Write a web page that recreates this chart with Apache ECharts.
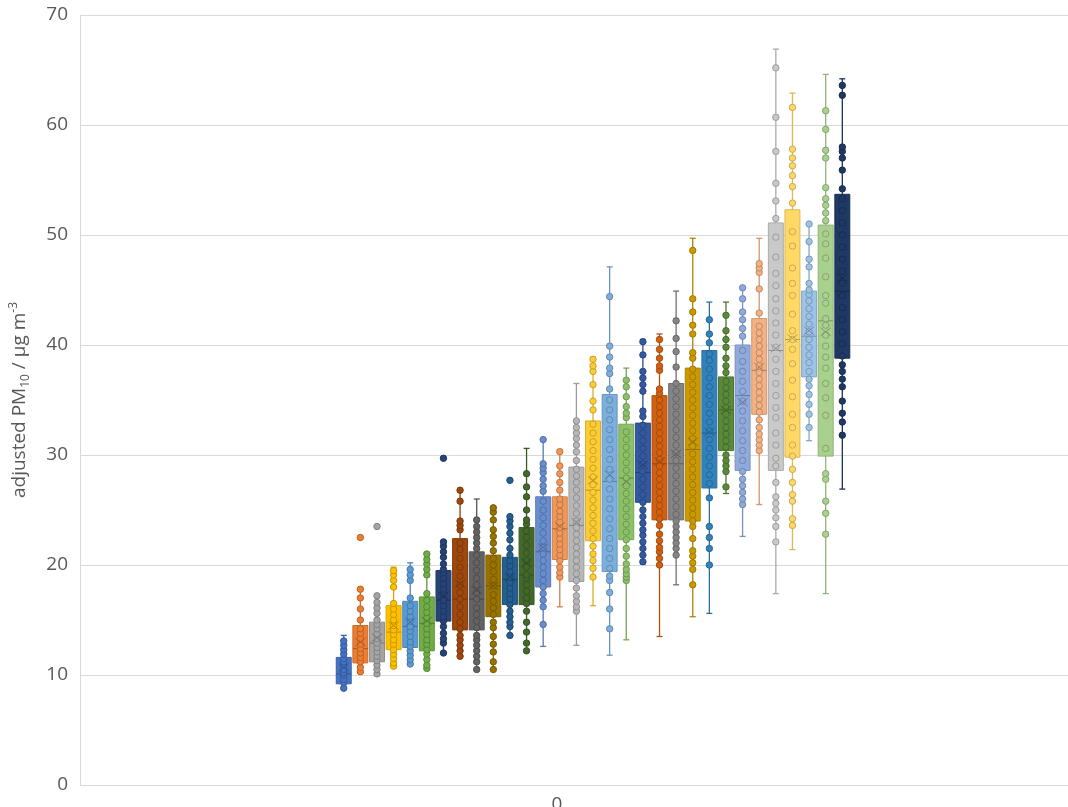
<!DOCTYPE html>
<html>
<head>
<meta charset="utf-8">
<script src="https://cdn.jsdelivr.net/npm/echarts@6/dist/echarts.min.js"></script>
<style>
  html, body { margin: 0; padding: 0; background: #ffffff; }
  #chart { width: 1068px; height: 807px; }
</style>
</head>
<body>
<div id="chart"></div>
<script>
// Category shown under the plot
const categories = ['0'];

// Series colours, one per box (Office palette order)
const groupColors = [
  '#4472C4', '#ED7D31', '#A5A5A5', '#FFC000', '#5B9BD5', '#70AD47',
  '#264478', '#9E480E', '#636363', '#997300', '#255E91', '#43682B',
  '#698ED0', '#F1975A', '#B7B7B7', '#FFCD33', '#7CAFDD', '#8CC168',
  '#335AA1', '#D26012', '#848484', '#CC9A00', '#3282BD', '#5A8A39',
  '#8FAADC', '#F4B183', '#C9C9C9', '#FFD966', '#9DC3E6', '#A9D18E',
  '#203864'
];

// Box statistics (µg m-3)
const whiskerLow = [8.8, 10.2, 10.0, 10.8, 11.0, 10.6, 12.0, 11.7, 10.5, 10.5, 13.6, 12.2, 12.6, 16.2, 12.7, 16.3, 11.8, 13.2, 20.1, 13.5, 18.2, 15.3, 15.6, 26.5, 22.6, 25.5, 17.4, 21.4, 31.3, 17.4, 26.9];
const quartile1  = [9.2, 11.1, 11.2, 12.3, 12.5, 12.2, 14.9, 14.1, 14.1, 15.3, 16.4, 16.4, 18.0, 20.5, 18.5, 22.2, 19.4, 22.3, 25.7, 24.1, 24.1, 24.0, 27.0, 30.4, 28.6, 33.7, 28.6, 29.8, 37.1, 29.9, 38.8];
const medians    = [10.1, 12.4, 12.9, 13.9, 14.4, 14.7, 16.8, 16.9, 16.9, 18.1, 18.7, 19.1, 21.2, 23.3, 23.6, 26.8, 27.6, 27.9, 28.4, 29.2, 29.2, 30.5, 32.0, 34.1, 35.4, 37.7, 39.5, 40.5, 40.8, 42.2, 44.9];
const quartile3  = [11.6, 14.5, 14.8, 16.3, 16.7, 17.1, 19.5, 22.4, 21.2, 20.9, 20.7, 23.4, 26.2, 26.2, 28.9, 33.1, 35.5, 32.8, 32.9, 35.4, 36.5, 37.9, 39.5, 37.1, 40.0, 42.4, 51.1, 52.3, 44.9, 50.9, 53.7];
const whiskerHigh = [13.6, 17.9, 17.3, 19.8, 20.2, 21.1, 22.2, 26.8, 26.0, 25.2, 24.5, 30.6, 31.4, 30.5, 36.5, 38.9, 47.1, 37.9, 40.5, 41.0, 44.9, 49.7, 43.9, 43.9, 45.2, 49.7, 66.9, 62.9, 51.0, 64.6, 64.2];
const means      = [10.7, 13.0, 13.4, 14.5, 14.8, 14.9, 17.2, 18.3, 17.7, 18.1, 18.9, 20.2, 21.6, 23.5, 23.9, 27.7, 28.2, 27.6, 29.1, 29.4, 30.1, 31.2, 32.1, 34.1, 34.8, 38.0, 39.7, 40.6, 41.3, 41.2, 46.1];

// Individual measurements per box (µg m-3)
const pointValues = [
  [8.8, 9.3, 9.6, 10.0, 10.2, 10.5, 10.9, 11.2, 11.5, 11.9, 12.3, 12.7, 13.1],
  [10.3, 10.7, 11.2, 11.6, 12.0, 12.4, 12.8, 13.3, 13.8, 14.2, 15.0, 16.0, 17.0, 17.8, 22.5],
  [10.1, 10.5, 10.9, 11.3, 11.7, 12.1, 12.5, 12.9, 13.3, 13.7, 14.2, 14.6, 15.0, 15.6, 16.1, 16.6, 17.2, 23.5],
  [10.8, 11.1, 11.5, 11.9, 12.3, 12.8, 13.2, 13.7, 14.1, 14.5, 15.0, 15.5, 16.0, 16.5, 18.0, 18.6, 19.1, 19.5],
  [11.0, 11.4, 11.8, 12.2, 12.6, 13.0, 13.5, 14.0, 14.4, 14.9, 15.3, 15.8, 16.3, 17.0, 18.6, 19.1, 19.6],
  [10.6, 10.9, 11.4, 11.9, 12.3, 12.8, 13.2, 13.7, 14.2, 14.7, 15.2, 15.7, 16.2, 16.8, 17.4, 19.1, 19.6, 20.1, 20.5, 21.0],
  [12.0, 12.9, 13.3, 13.8, 14.4, 14.9, 15.3, 15.8, 16.3, 16.8, 17.3, 17.8, 18.3, 18.8, 19.3, 19.6, 20.1, 20.7, 21.2, 21.7, 22.1, 29.7],
  [11.7, 12.2, 12.7, 13.2, 13.6, 14.2, 14.8, 15.5, 16.2, 16.9, 17.5, 18.2, 19.0, 19.8, 20.6, 21.4, 22.0, 23.2, 23.6, 24.0, 25.8, 26.8],
  [10.5, 11.2, 11.7, 12.2, 12.7, 13.2, 13.6, 14.3, 14.9, 15.5, 16.1, 16.9, 17.5, 18.2, 18.8, 19.5, 20.2, 20.9, 21.5, 22.0, 22.5, 23.0, 23.5, 24.1],
  [10.5, 11.2, 12.1, 12.8, 13.5, 14.3, 14.8, 15.5, 16.1, 16.7, 17.3, 18.1, 18.7, 19.4, 20.0, 20.6, 21.3, 22.0, 22.6, 23.2, 24.1, 24.8, 25.2],
  [13.6, 14.4, 14.8, 15.3, 15.8, 16.4, 16.9, 17.4, 17.9, 18.4, 18.9, 19.4, 19.9, 20.4, 20.9, 21.5, 22.3, 22.9, 23.5, 24.0, 24.4, 27.7],
  [12.2, 12.9, 13.9, 14.8, 15.8, 16.5, 17.0, 17.6, 18.2, 18.8, 19.1, 19.8, 20.4, 21.1, 21.8, 22.5, 23.1, 23.7, 24.1, 25.0, 26.2, 27.1, 28.3],
  [14.6, 16.2, 16.8, 17.4, 18.0, 18.6, 19.2, 19.8, 20.4, 21.0, 21.6, 22.2, 22.9, 23.6, 24.3, 25.0, 25.8, 26.7, 27.2, 27.8, 28.4, 28.8, 29.2, 31.4],
  [18.9, 19.3, 19.8, 20.4, 20.9, 21.4, 21.9, 22.4, 22.9, 23.4, 23.9, 24.4, 24.9, 25.5, 26.0, 26.8, 27.5, 28.3, 29.0, 30.3],
  [15.8, 16.2, 16.7, 17.2, 17.9, 18.6, 19.2, 19.8, 20.4, 21.0, 21.6, 22.2, 22.8, 23.4, 24.0, 24.7, 25.4, 26.1, 26.8, 27.5, 28.1, 28.7, 29.5, 30.3, 30.9, 31.5, 32.0, 32.5, 33.1],
  [18.9, 19.7, 20.4, 21.0, 21.7, 22.4, 23.1, 23.8, 24.5, 25.2, 25.9, 26.6, 27.3, 28.0, 28.8, 29.6, 30.4, 31.2, 32.0, 32.8, 34.1, 34.9, 36.4, 37.6, 38.1, 38.7],
  [14.2, 16.0, 17.5, 18.6, 19.0, 19.7, 20.6, 21.5, 22.4, 23.3, 24.2, 25.1, 26.0, 26.9, 27.8, 28.7, 29.6, 30.5, 31.4, 32.3, 33.2, 34.1, 35.0, 36.0, 37.4, 37.9, 38.9, 39.9, 44.4],
  [18.6, 18.9, 19.2, 19.6, 20.1, 20.8, 21.5, 22.3, 23.0, 23.7, 24.4, 25.1, 25.8, 26.5, 27.2, 27.9, 28.6, 29.3, 30.0, 30.7, 31.4, 32.1, 33.4, 33.8, 34.4, 35.3, 36.2, 36.8],
  [20.3, 20.9, 21.5, 22.1, 22.7, 23.2, 23.8, 24.4, 25.0, 25.7, 26.4, 27.1, 27.8, 28.5, 29.2, 29.9, 30.6, 31.3, 32.0, 32.7, 33.5, 34.0, 35.8, 36.4, 37.0, 37.6, 39.1, 40.3],
  [20.0, 20.6, 21.2, 21.6, 22.2, 22.8, 23.6, 24.2, 24.8, 25.4, 26.0, 26.6, 27.2, 27.8, 28.4, 29.0, 29.6, 30.2, 30.8, 31.4, 32.0, 32.6, 33.2, 33.8, 34.4, 35.0, 35.6, 36.0, 37.7, 38.1, 38.8, 39.6, 40.5],
  [20.9, 21.5, 22.0, 22.5, 23.0, 23.5, 24.0, 24.6, 25.3, 26.0, 26.7, 27.4, 28.1, 28.8, 29.5, 30.2, 30.9, 31.6, 32.3, 33.0, 33.7, 34.4, 35.1, 35.8, 36.5, 38.0, 39.4, 40.6, 42.2],
  [18.2, 19.6, 20.2, 20.8, 21.3, 22.4, 23.5, 24.0, 24.6, 25.2, 25.9, 26.6, 27.3, 28.0, 28.7, 29.4, 30.1, 30.8, 31.5, 32.2, 32.9, 33.6, 34.3, 35.0, 35.7, 36.4, 37.1, 37.8, 38.8, 39.3, 41.0, 41.8, 43.0, 44.2, 48.6],
  [20.0, 21.5, 22.5, 23.5, 26.1, 27.4, 28.2, 29.0, 29.8, 30.6, 31.4, 32.2, 33.0, 33.8, 34.6, 35.4, 36.2, 37.0, 37.8, 38.6, 39.2, 40.2, 41.0, 42.3],
  [27.1, 28.5, 29.0, 29.5, 30.0, 30.7, 31.3, 31.9, 32.5, 33.1, 33.7, 34.3, 34.9, 35.5, 36.1, 36.7, 37.5, 38.1, 38.8, 39.8, 40.5, 41.3, 42.7],
  [25.5, 26.0, 26.6, 27.2, 27.8, 28.5, 29.5, 30.4, 31.3, 32.2, 33.1, 34.0, 34.9, 35.8, 36.7, 37.6, 38.5, 39.5, 40.8, 41.5, 42.3, 43.0, 44.2, 45.2],
  [30.4, 30.9, 31.4, 31.9, 32.5, 33.2, 33.9, 34.5, 35.1, 35.7, 36.3, 36.9, 37.5, 38.1, 38.7, 39.3, 39.9, 40.5, 41.1, 41.7, 42.9, 45.1, 46.6, 47.0, 47.4],
  [22.1, 23.5, 24.3, 25.0, 25.6, 26.2, 27.5, 29.0, 29.7, 30.9, 32.0, 33.4, 34.3, 35.4, 36.5, 37.6, 38.7, 39.8, 40.9, 42.0, 43.1, 44.2, 45.4, 46.5, 48.0, 49.8, 51.5, 53.1, 54.7, 57.6, 60.7, 65.2],
  [23.6, 24.2, 25.8, 26.4, 27.5, 28.7, 29.9, 30.9, 32.5, 33.7, 35.3, 36.8, 38.3, 39.6, 40.5, 41.3, 42.8, 44.5, 45.6, 47.0, 49.0, 50.3, 52.9, 54.4, 55.4, 56.3, 57.0, 57.8, 61.6],
  [32.5, 33.7, 34.6, 35.5, 36.3, 36.9, 37.6, 38.4, 39.1, 39.8, 40.5, 41.2, 41.9, 42.6, 43.3, 44.0, 44.6, 45.0, 45.6, 47.1, 47.8, 49.4, 51.0],
  [22.8, 24.7, 25.8, 27.8, 28.3, 30.6, 33.6, 35.2, 36.5, 37.9, 38.9, 39.9, 40.9, 41.8, 42.4, 43.8, 44.5, 46.2, 47.9, 49.2, 50.1, 51.3, 52.0, 52.7, 53.3, 54.3, 57.0, 57.7, 59.6, 61.3],
  [31.8, 33.0, 33.8, 34.9, 36.2, 36.9, 37.6, 38.2, 39.0, 40.1, 41.2, 42.3, 43.4, 44.5, 45.6, 46.7, 47.8, 48.9, 50.0, 51.1, 52.2, 53.3, 54.2, 55.9, 57.0, 57.6, 58.0, 62.7, 63.6]
];

const yAxisMin = 0;
const yAxisMax = 70;
const yAxisStep = 10;

// darken a hex colour by a factor
function shade(hex, f) {
  const n = parseInt(hex.slice(1), 16);
  const r = Math.round(((n >> 16) & 255) * f);
  const g = Math.round(((n >> 8) & 255) * f);
  const b = Math.round((n & 255) * f);
  return 'rgb(' + r + ',' + g + ',' + b + ')';
}

const boxData = groupColors.map((c, i) => [i + 1, whiskerLow[i], quartile1[i], medians[i], quartile3[i], whiskerHigh[i]]);
const meanData = means.map((m, i) => [i + 1, m]);
const pointData = [];
pointValues.forEach((vals, i) => {
  vals.forEach(v => {
    pointData.push({
      value: [i + 1, v],
      itemStyle: { color: groupColors[i], borderColor: shade(groupColors[i], 0.78) }
    });
  });
});

function renderBox(params, api) {
  const i = params.dataIndex;
  const color = groupColors[i];
  const edge = shade(color, 0.85);
  const dark = shade(color, 0.72);
  const x = api.value(0);
  const step = api.size([1, 0])[0];
  const bw = step * 0.9;
  const pLow = api.coord([x, api.value(1)]);
  const pQ1 = api.coord([x, api.value(2)]);
  const pMed = api.coord([x, api.value(3)]);
  const pQ3 = api.coord([x, api.value(4)]);
  const pHigh = api.coord([x, api.value(5)]);
  const cx = pQ1[0];
  const cap = 3;
  const wStyle = { stroke: edge, lineWidth: 1.3 };
  return {
    type: 'group',
    children: [
      { type: 'line', shape: { x1: cx, y1: pLow[1], x2: cx, y2: pQ1[1] }, style: wStyle },
      { type: 'line', shape: { x1: cx, y1: pQ3[1], x2: cx, y2: pHigh[1] }, style: wStyle },
      { type: 'line', shape: { x1: cx - cap, y1: pLow[1], x2: cx + cap, y2: pLow[1] }, style: wStyle },
      { type: 'line', shape: { x1: cx - cap, y1: pHigh[1], x2: cx + cap, y2: pHigh[1] }, style: wStyle },
      {
        type: 'rect',
        shape: { x: cx - bw / 2, y: pQ3[1], width: bw, height: pQ1[1] - pQ3[1] },
        style: { fill: color, stroke: edge, lineWidth: 1 }
      },
      { type: 'line', shape: { x1: cx - bw / 2, y1: pMed[1], x2: cx + bw / 2, y2: pMed[1] }, style: { stroke: dark, lineWidth: 1 } }
    ]
  };
}

function renderMean(params, api) {
  const i = params.dataIndex;
  const dark = shade(groupColors[i], 0.72);
  const p = api.coord([api.value(0), api.value(1)]);
  const hw = 5, hh = 4;
  const st = { stroke: dark, lineWidth: 1 };
  return {
    type: 'group',
    children: [
      { type: 'line', shape: { x1: p[0] - hw, y1: p[1] - hh, x2: p[0] + hw, y2: p[1] + hh }, style: st },
      { type: 'line', shape: { x1: p[0] - hw, y1: p[1] + hh, x2: p[0] + hw, y2: p[1] - hh }, style: st }
    ]
  };
}

const chart = echarts.init(document.getElementById('chart'), null, { renderer: 'canvas' });
const fontFamily = '"Open Sans", "Noto Sans", sans-serif';

chart.setOption({
  animation: false,
  backgroundColor: '#ffffff',
  grid: { left: 80, right: 0, top: 15, bottom: 22, containLabel: false, outerBoundsMode: 'none' },
  xAxis: [
    {
      type: 'value',
      min: -14.87,
      max: 44.58,
      show: false
    },
    {
      type: 'category',
      data: categories,
      position: 'bottom',
      axisLine: { show: false },
      axisTick: { show: false },
      splitLine: { show: false },
      axisLabel: {
        margin: 10,
        fontSize: 19,
        color: '#595959',
        fontFamily: fontFamily,
        padding: [0, 34, 0, 0]
      }
    }
  ],
  yAxis: {
    type: 'value',
    min: yAxisMin,
    max: yAxisMax,
    interval: yAxisStep,
    axisLine: { show: true, onZero: false, lineStyle: { color: '#d9d9d9', width: 1 } },
    axisTick: { show: false },
    splitLine: { show: true, lineStyle: { color: '#d9d9d9', width: 1 } },
    axisLabel: { margin: 12, fontSize: 19, color: '#595959', fontFamily: fontFamily },
    name: '{t|adjusted PM}{sub|10}{t| / µg m}{sup|-3}',
    nameLocation: 'middle',
    nameGap: 48,
    nameRotate: 90,
    nameTextStyle: {
      color: '#595959',
      fontFamily: fontFamily,
      rich: {
        t: { fontSize: 19, color: '#595959', fontFamily: fontFamily, lineHeight: 24 },
        sub: { fontSize: 12, color: '#595959', fontFamily: fontFamily, verticalAlign: 'bottom', lineHeight: 24 },
        sup: { fontSize: 12, color: '#595959', fontFamily: fontFamily, verticalAlign: 'top', lineHeight: 24 }
      }
    }
  },
  series: [
    {
      name: 'boxes',
      type: 'custom',
      xAxisIndex: 0,
      renderItem: renderBox,
      encode: { x: 0, y: [1, 2, 3, 4, 5] },
      data: boxData,
      z: 2
    },
    {
      name: 'points',
      type: 'scatter',
      xAxisIndex: 0,
      symbol: 'circle',
      symbolSize: 6.4,
      itemStyle: { borderWidth: 1, opacity: 1 },
      data: pointData,
      z: 3
    },
    {
      name: 'means',
      type: 'custom',
      xAxisIndex: 0,
      renderItem: renderMean,
      encode: { x: 0, y: 1 },
      data: meanData,
      z: 4
    }
  ]
});
</script>
</body>
</html>
